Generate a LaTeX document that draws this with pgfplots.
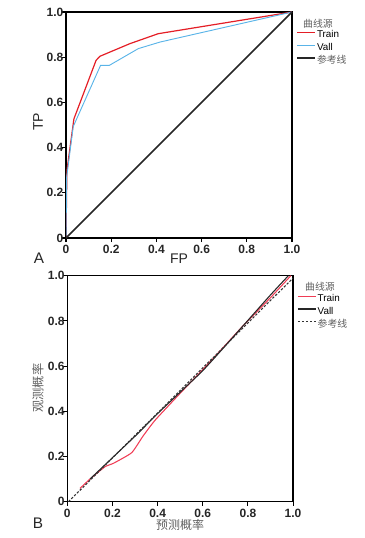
\documentclass[border=0pt]{standalone}
\usepackage{pgfplots}
\pgfplotsset{compat=1.18}
\usepackage{fontspec}
\setmainfont{Liberation Sans}
\newfontfamily\cjk{Noto Sans CJK SC}
\definecolor{trainred}{RGB}{228,30,38}
\definecolor{valblue}{RGB}{90,180,232}
\definecolor{calred}{RGB}{240,60,85}
\definecolor{lblgray}{RGB}{95,95,95}
\begin{document}
\begin{tikzpicture}
\path[use as bounding box] (0pt,0pt) rectangle (273pt,-403.5pt);
\pgfplotsset{
  myax/.style={
    scale only axis, width=169.5pt, height=169.5pt,
    xmin=0,xmax=1,ymin=0,ymax=1,
    axis line style={line width=1.1pt},
    tick align=outside, tick pos=left, major tick length=3pt,
    tick style={line width=0.8pt,black},
    xtick={0,0.2,0.4,0.6,0.8,1}, ytick={0,0.2,0.4,0.6,0.8,1},
    xticklabels={0,0.2,0.4,0.6,0.8,1.0}, yticklabels={0,0.2,0.4,0.6,0.8,1.0},
    ticklabel style={font=\fontsize{9}{10}\selectfont\bfseries, text=black!85},
    xticklabel style={yshift=1pt},
    yticklabel style={inner xsep=0pt, xshift=1.2pt},
    /pgf/number format/assume math mode=true,
    legend style={at={(1.018,0.9265)}, anchor=north west, draw=none, fill=none,
      font=\fontsize{7.4}{8}\selectfont, row sep=0.2pt, inner sep=0pt,
      nodes={inner sep=1.2pt, text height=5.5pt, text depth=1.5pt}},
    legend cell align=left,
    legend image code/.code={\draw[##1] (0pt,2pt) -- (13.2pt,2pt);},
  }
}
\begin{axis}[myax, at={(49.5pt,-178.5pt)}, anchor=south west]
\addplot[trainred, line width=0.9pt] coordinates {
(0,0) (0.002,0.15) (0.004,0.298) (0.035,0.527) (0.133,0.786) (0.150,0.804) (0.195,0.823) (0.283,0.86) (0.408,0.904) (1,1)};
\addlegendentry{Train}
\addplot[valblue, line width=0.7pt] coordinates {
(0,0) (0.003,0.27) (0.032,0.493) (0.153,0.764) (0.192,0.764) (0.32,0.838) (0.416,0.867) (1,1)};
\addlegendentry{Vall}
\addplot[black!85, line width=1.1pt] coordinates {(0,0) (1,1)};
\addlegendentry{\textcolor{lblgray}{\cjk 参考线}}
\end{axis}
\begin{axis}[myax, at={(50.5pt,-376.3pt)}, anchor=south west, width=169.3pt]
\addplot[calred, line width=0.8pt, smooth, tension=0.3] coordinates {
(0.056,0.059) (0.1,0.1) (0.167,0.155) (0.204,0.17) (0.285,0.217) (0.335,0.29) (0.389,0.361) (0.5,0.48) (0.6,0.585) (0.7,0.693) (0.78,0.78) (0.9,0.903) (0.99,1.0)};
\addlegendentry{Train}
\addplot[black!85, line width=0.8pt, smooth, tension=0.3] coordinates {
(0.1,0.1) (0.2,0.195) (0.3,0.29) (0.4,0.39) (0.5,0.485) (0.6,0.58) (0.7,0.69) (0.78,0.78) (0.9,0.915) (0.979,1.0)};
\addlegendentry{Vall}
\addplot[black!80, line width=0.8pt, dash pattern=on 1.8pt off 1.2pt] coordinates {(0.005,0) (1,0.99)};
\addlegendentry{\textcolor{lblgray}{\cjk 参考线}}
\end{axis}
\begin{scope}[x=0.75pt,y=-0.75pt]
\node[text=lblgray, font=\cjk\fontsize{7.4}{8}\selectfont] at (318,23.5) {曲线源};
\node[text=lblgray, font=\cjk\fontsize{7.4}{8}\selectfont] at (320,287) {曲线源};
\node[font=\fontsize{10.5}{12}\selectfont, text=black!85, rotate=90] at (38,122) {TP};
\node[font=\fontsize{10.5}{12}\selectfont, text=black!85] at (179,259) {FP};
\node[font=\fontsize{11.5}{12}\selectfont, text=black!85] at (39,258) {A};
\node[font=\fontsize{11.5}{12}\selectfont, text=black!85] at (38,523) {B};
\node[font=\cjk\fontsize{9}{10}\selectfont, text=lblgray] at (180,524.5) {预测概率};
\node[font=\cjk\fontsize{9.2}{10}\selectfont, text=lblgray, rotate=90] at (38,388) {观测概率};
\end{scope}
\end{tikzpicture}
\end{document}
